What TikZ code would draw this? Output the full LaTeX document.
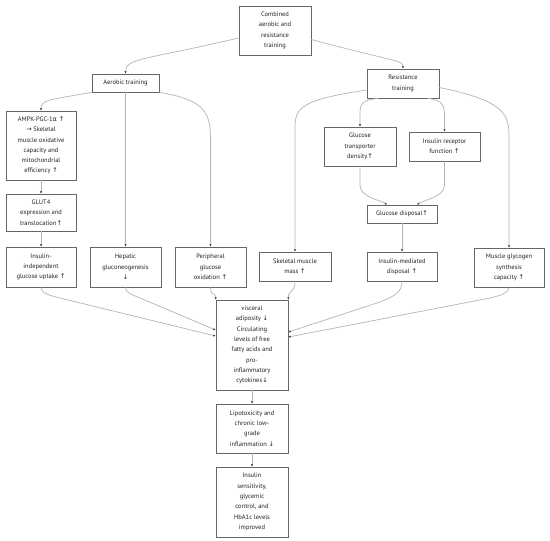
\documentclass[tikz,border=0pt]{standalone}
\usepackage{fontspec}
\setmainfont{PT Sans}
\newfontfamily\symf{DejaVu Sans}
\usetikzlibrary{arrows.meta}
\newcommand{\uarr}{{\symf ↑}}
\newcommand{\darr}{{\symf ↓}}
\newcommand{\rarr}{{\symf →}}
\newcommand{\alp}{{\symf α}}
\definecolor{boxc}{HTML}{666666}
\definecolor{edgec}{HTML}{B4B4B4}
\definecolor{txtc}{HTML}{222222}
\tikzset{
  box/.style={draw=boxc, line width=0.8pt, fill=white, inner sep=0pt, align=center,
    text=txtc, font=\fontsize{6.5}{10.3}\selectfont, anchor=center},
  conn/.style={draw=edgec, line width=0.7pt, -{Latex[length=2.2pt,width=2.2pt,color=black!80]}}
}
\begin{document}
\begin{tikzpicture}[x=1pt,y=-1pt]
\useasboundingbox (0,0) rectangle (550,541);
\fill[white] (0,0) rectangle (550,541);

\node[box, minimum width=72pt, minimum height=49pt] (comb) at (275,30.5) {Combined\\aerobic and\\resistance\\training};
\node[box, minimum width=67pt, minimum height=18pt] (aer) at (125.5,83) {Aerobic training};
\node[box, minimum width=72pt, minimum height=29pt] (res) at (403,83.5) {Resistance\\training};
\node[box, minimum width=70pt, minimum height=69pt] (ampk) at (41,145.5) {AMPK-PGC-1\alp\ \uarr\\\rarr\ Skeletal\\muscle oxidative\\capacity and\\mitochondrial\\efficiency \uarr};
\node[box, minimum width=70pt, minimum height=37pt] (glut) at (41,212.5) {GLUT4\\expression and\\translocation\uarr};
\node[box, minimum width=70pt, minimum height=40pt] (ii) at (41,267) {Insulin-\\independent\\glucose uptake \uarr};
\node[box, minimum width=71pt, minimum height=40pt] (hep) at (125.5,267) {Hepatic\\gluconeogenesis\\\darr};
\node[box, minimum width=71pt, minimum height=40pt] (per) at (210.5,267) {Peripheral\\glucose\\oxidation \uarr};
\node[box, minimum width=72pt, minimum height=29pt] (skm) at (295,266.5) {Skeletal muscle\\mass \uarr};
\node[box, minimum width=72pt, minimum height=39pt] (gt) at (360,146.5) {Glucose\\transporter\\density\uarr};
\node[box, minimum width=71pt, minimum height=29pt] (ir) at (444.5,146.5) {Insulin receptor\\function \uarr};
\node[box, minimum width=70pt, minimum height=18pt] (gd) at (402,214) {Glucose disposal\uarr};
\node[box, minimum width=70pt, minimum height=29pt] (im) at (402,266.5) {Insulin-mediated\\disposal \uarr};
\node[box, minimum width=70pt, minimum height=39pt] (mg) at (509,267.5) {Muscle glycogen\\synthesis\\capacity \uarr};
\node[box, minimum width=72pt, minimum height=90pt] (vis) at (252,345) {visceral\\adiposity \darr\\Circulating\\levels of free\\fatty acids and\\pro-\\inflammatory\\cytokines\darr};
\node[box, minimum width=72pt, minimum height=49pt] (lip) at (252,428.5) {Lipotoxicity and\\chronic low-\\grade\\inflammation \darr};
\node[box, minimum width=72pt, minimum height=70pt] (ins) at (252,502) {Insulin\\sensitivity,\\glycemic\\control, and\\HbA1c levels\\improved};

\draw[conn] ([yshift=-7.5pt]comb.west) .. controls (145,60) and (125.5,58) .. (aer.north);
\draw[conn] ([yshift=-9pt]comb.east) .. controls (395,62) and (403,60) .. (res.north);
\draw[conn] (aer.south west) .. controls (48,100) and (41,100) .. (ampk.north);
\draw[conn] (aer.south) -- (hep.north);
\draw[conn] (aer.south east) .. controls (205,100) and (210.5,112) .. (210.5,140) -- (per.north);
\draw[conn] ([yshift=-6.5pt]res.west) .. controls (300,100) and (295,108) .. (295,128) -- (skm.north);
\draw[conn] ([xshift=-25pt]res.south) .. controls (362,100) and (360,104) .. (360,114) -- (gt.north);
\draw[conn] ([xshift=25pt]res.south) .. controls (443,100) and (444.5,106) .. (444.5,116) -- (ir.north);
\draw[conn] ([yshift=-4pt]res.east) .. controls (500,100) and (509,112) .. (509,135) -- (mg.north);
\draw[conn] (ampk.south) -- (glut.north);
\draw[conn] (glut.south) -- (ii.north);
\draw[conn] (gt.south) -- (360,185) .. controls (360,197) and (380,200) .. ([xshift=-15pt]gd.north);
\draw[conn] (ir.south) -- (444.5,185) .. controls (444.5,197) and (424,200) .. ([xshift=15pt]gd.north);
\draw[conn] (gd.south) -- (im.north);
\draw[conn] (ii.south) .. controls (41,293) and (48,295) .. (60,298) -- ([yshift=9pt]vis.west);
\draw[conn] (hep.south) .. controls (125.5,292) and (130,294) .. (140,298) -- ([yshift=15pt]vis.west);
\draw[conn] (per.south) .. controls (210.5,297) and (216,292) .. (vis.north west);
\draw[conn] (skm.south) .. controls (295,293) and (288,290) .. (vis.north east);
\draw[conn] (im.south) .. controls (402,292) and (395,296) .. (380,302) -- ([yshift=13pt]vis.east);
\draw[conn] (mg.south) .. controls (509,292) and (503,295) .. (490,298) -- ([yshift=8pt]vis.east);
\draw[conn] (vis.south) -- (lip.north);
\draw[conn] (lip.south) -- (ins.north);
\end{tikzpicture}
\end{document}
